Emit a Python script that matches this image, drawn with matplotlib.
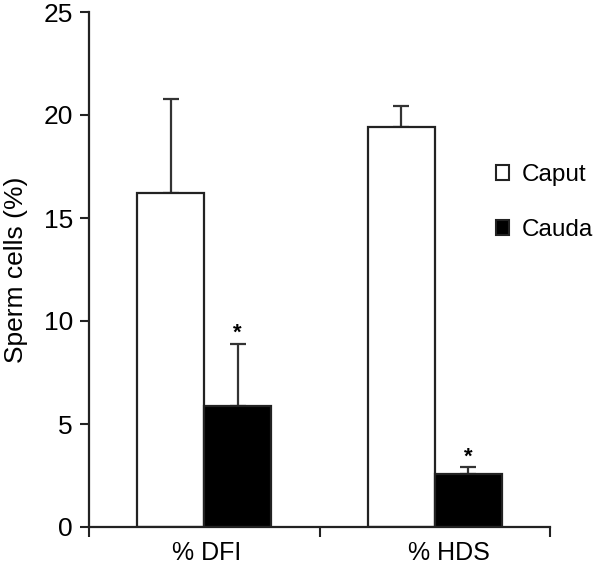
import matplotlib
matplotlib.use("Agg")
import matplotlib.pyplot as plt
from matplotlib.patches import Patch
import numpy as np

plt.rcParams['font.family'] = ['Liberation Sans', 'DejaVu Sans']

categories = ["% DFI", "% HDS"]
series_names = ["Caput", "Cauda"]
caput_vals = [16.2, 19.4]
caput_err = [4.6, 1.05]
cauda_vals = [5.85, 2.55]
cauda_err = [3.05, 0.35]
significant = [True, True]
yticks = [0, 5, 10, 15, 20, 25]

W, H, DPI = 600, 567, 100
fig = plt.figure(figsize=(W / DPI, H / DPI), dpi=DPI)
ax = fig.add_axes([89 / W, 1 - 527 / H, (550 - 89) / W, (527 - 12) / H])

centers = np.arange(len(categories)) + 0.5
width = 0.29
edge = '#222222'
x1 = centers - width / 2
x2 = centers + width / 2
ax.bar(x1, caput_vals, width, color='white', edgecolor=edge, linewidth=1.6, zorder=2)
ax.bar(x2, cauda_vals, width, color='black', edgecolor=edge, linewidth=1.6, zorder=2)
for xs, vals, errs in [(x1, caput_vals, caput_err), (x2, cauda_vals, cauda_err)]:
    ax.errorbar(xs, vals, yerr=[np.zeros(len(vals)), errs], fmt='none',
                ecolor='#333333', elinewidth=1.6, capsize=6, capthick=1.6, zorder=1)
for i, sig in enumerate(significant):
    if sig:
        ax.annotate('*', (x2[i], cauda_vals[i] + cauda_err[i]), xytext=(0, 0),
                    textcoords='offset points', ha='center', va='bottom',
                    fontsize=16, fontweight='bold')

ax.set_xlim(0, len(categories))
ax.set_ylim(0, 25)
ax.set_yticks(yticks)
ax.set_xticks(np.arange(len(categories) + 1))
ax.set_xticklabels([])
ax.set_xticks(centers + np.array([0.01, 0.06]), minor=True)
ax.set_xticklabels(categories, minor=True)
ax.tick_params(axis='x', which='major', direction='out', length=7.5, width=1.5, color=edge)
ax.tick_params(axis='x', which='minor', length=0, pad=10, labelsize=18)
ax.tick_params(axis='y', direction='out', length=6.5, width=1.5, color=edge, labelsize=19, pad=5)
for s in ['top', 'right']:
    ax.spines[s].set_visible(False)
for s in ['left', 'bottom']:
    ax.spines[s].set_linewidth(1.6)
    ax.spines[s].set_color(edge)

ax.set_ylabel("Sperm cells (%)", fontsize=19)
ax.yaxis.set_label_coords(-0.133, 0.5)

handles = [Patch(facecolor='white', edgecolor=edge, linewidth=1.5),
           Patch(facecolor='black', edgecolor=edge, linewidth=1.5)]
fig.legend(handles, series_names, loc='upper left',
           bbox_to_anchor=(496 / W, 1 - 164 / H), frameon=False, fontsize=17.5,
           handlelength=0.55, handleheight=0.55, handletextpad=0.5,
           labelspacing=1.36, borderpad=0, borderaxespad=0)

fig.savefig("out.png", dpi=DPI)
